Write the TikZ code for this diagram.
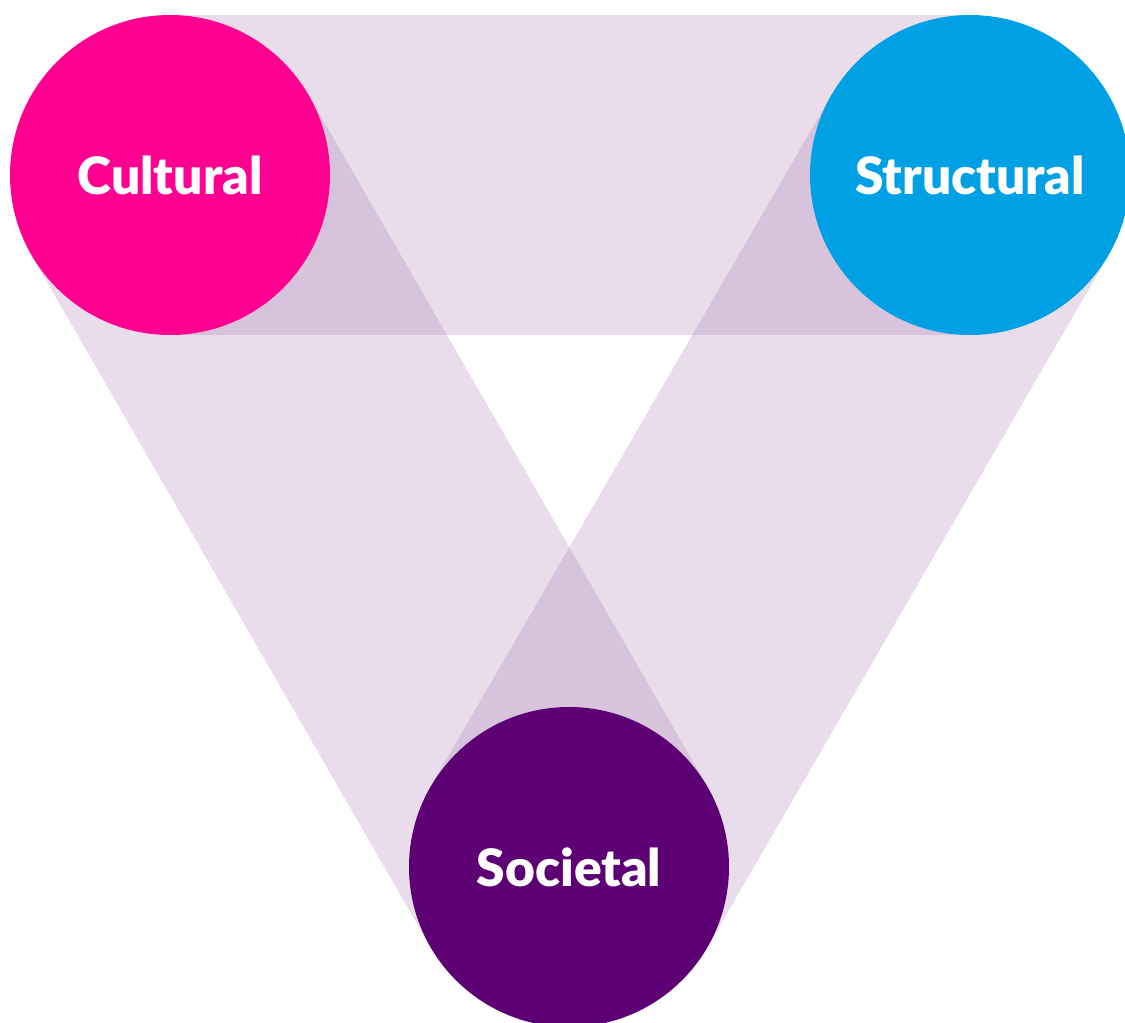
\documentclass[tikz,border=0pt]{standalone}
\usepackage{fontspec}
\newfontfamily\labelfont{Lato Black}
\usetikzlibrary{calc}
\definecolor{bandpurple}{RGB}{159,107,168}
\definecolor{culturalpink}{RGB}{255,0,144}
\definecolor{structuralblue}{RGB}{0,160,228}
\definecolor{societalpurple}{RGB}{92,0,115}
\begin{document}
\begin{tikzpicture}[x=1pt,y=-1pt,
  band/.style={fill=bandpurple,fill opacity=0.23,draw=none},
  disc/.style={circle,minimum size=320pt,inner sep=0pt,draw=none,text=white,
    font=\labelfont\fontsize{51.5}{55}\selectfont}]
\useasboundingbox (0,0) rectangle (1125,1023);
\coordinate (c) at (170,175);
\coordinate (s) at (970,175);
\coordinate (o) at (569,867);
% tangent bands joining each pair of discs
\foreach \a/\b in {c/s,s/o,o/c}{
  \fill[band] ($(\a)!160pt!90:(\b)$) -- ($(\b)!160pt!-90:(\a)$)
    -- ($(\b)!160pt!90:(\a)$) -- ($(\a)!160pt!-90:(\b)$) -- cycle;
}
\node[disc,fill=culturalpink] (cultural) at (c) {Cultural};
\node[disc,fill=structuralblue] (structural) at (s) {Structural};
\node[disc,fill=societalpurple] (societal) at (o) {Societal};
\end{tikzpicture}
\end{document}
